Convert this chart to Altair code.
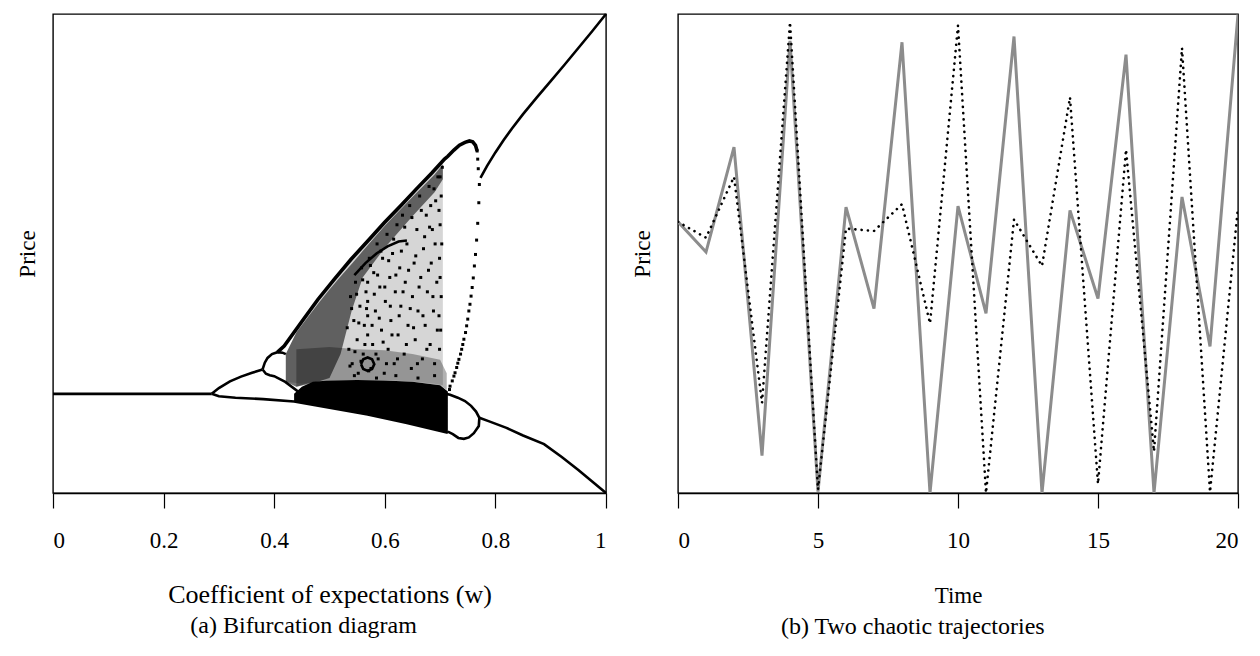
import altair as alt
import pandas as pd

FONT = "Liberation Serif"
FS = 23

# ---------------- Panel (a): bifurcation diagram (w, price scaled to 0..1) ----------------
fixed_w = [0.0, 0.287]
fixed_p = [0.207, 0.207]

floor_w = [0.287, 0.30, 0.33, 0.38, 0.436, 0.50, 0.569, 0.64, 0.714]
floor_p = [0.207, 0.202, 0.199, 0.196, 0.191, 0.178, 0.164, 0.146, 0.126]

p2up_w = [0.287, 0.30, 0.32, 0.34, 0.36, 0.379]
p2up_p = [0.207, 0.219, 0.233, 0.243, 0.251, 0.258]

looptop_w = [0.379, 0.383, 0.388, 0.396, 0.406, 0.415, 0.421]
looptop_p = [0.258, 0.272, 0.282, 0.290, 0.294, 0.293, 0.290]

loopbot_w = [0.379, 0.385, 0.392, 0.400, 0.420, 0.442, 0.460]
loopbot_p = [0.258, 0.249, 0.246, 0.244, 0.232, 0.213, 0.207]

arc_w = [0.545, 0.565, 0.585, 0.605, 0.625, 0.640]
arc_p = [0.455, 0.480, 0.500, 0.515, 0.525, 0.527]

ring_w = [0.557, 0.561, 0.569, 0.577, 0.581, 0.577, 0.569, 0.561, 0.557]
ring_p = [0.269, 0.279, 0.283, 0.279, 0.269, 0.259, 0.255, 0.259, 0.269]

upper_w = [0.773, 0.785, 0.800, 0.815, 0.830, 0.850, 0.875, 0.900, 0.925, 0.950, 0.975, 1.000]
upper_p = [0.658, 0.683, 0.711, 0.737, 0.761, 0.791, 0.826, 0.860, 0.894, 0.929, 0.964, 1.000]

lloop_w = [0.702, 0.718, 0.732, 0.745, 0.756, 0.765, 0.771, 0.770, 0.761, 0.752, 0.743, 0.733, 0.723, 0.714]
lloop_p = [0.209, 0.205, 0.199, 0.192, 0.182, 0.170, 0.157, 0.140, 0.125, 0.116, 0.113, 0.115, 0.123, 0.128]

lower_w = [0.771, 0.790, 0.820, 0.850, 0.888, 0.920, 0.950, 0.975, 1.000]
lower_p = [0.157, 0.149, 0.136, 0.120, 0.102, 0.075, 0.048, 0.024, 0.000]

# upper edge of the chaotic region, continuing over the bump
edge_w = [0.406, 0.418, 0.450, 0.479, 0.510, 0.539, 0.570, 0.599, 0.630, 0.659, 0.685,
          0.708, 0.714, 0.725, 0.735, 0.745, 0.753, 0.759, 0.764, 0.767]
edge_p = [0.294, 0.307, 0.358, 0.404, 0.448, 0.488, 0.527, 0.564, 0.601, 0.637, 0.668,
          0.697, 0.703, 0.716, 0.726, 0.732, 0.735, 0.733, 0.726, 0.714]

# sparse dots on the right side of the large loop
side_w = [0.767, 0.768, 0.769, 0.771, 0.770, 0.768, 0.766, 0.764, 0.762, 0.760, 0.758, 0.756,
          0.754, 0.752, 0.750, 0.748, 0.746, 0.743, 0.741, 0.739, 0.737, 0.734, 0.732, 0.730,
          0.727, 0.725, 0.722, 0.718, 0.717]
side_p = [0.714, 0.697, 0.677, 0.644, 0.606, 0.563, 0.528, 0.498, 0.474, 0.449, 0.429, 0.411,
          0.394, 0.380, 0.363, 0.349, 0.335, 0.321, 0.310, 0.300, 0.290, 0.279, 0.271, 0.262,
          0.251, 0.244, 0.234, 0.223, 0.216]

# scattered chaotic points
chaos_w = [0.535, 0.538, 0.541, 0.544, 0.547, 0.550, 0.552, 0.555, 0.558, 0.561, 0.563, 0.566,
           0.569, 0.569, 0.569, 0.569, 0.572, 0.575, 0.578, 0.580, 0.583, 0.586, 0.588, 0.591,
           0.594, 0.596, 0.599, 0.601, 0.604, 0.606, 0.609, 0.611, 0.614, 0.617, 0.619, 0.622,
           0.624, 0.627, 0.629, 0.632, 0.635, 0.637, 0.640, 0.642, 0.645, 0.648, 0.650, 0.653,
           0.655, 0.658, 0.660, 0.663, 0.665, 0.668, 0.670, 0.673, 0.675, 0.677, 0.680, 0.682,
           0.684, 0.686, 0.688, 0.690, 0.692, 0.694, 0.696,
           0.699, 0.701, 0.698, 0.702, 0.700, 0.699, 0.703, 0.700, 0.698, 0.702, 0.700, 0.704,
           0.532, 0.537, 0.540, 0.546, 0.549, 0.553, 0.557, 0.560, 0.564, 0.567, 0.571, 0.574,
           0.577, 0.581, 0.584, 0.587, 0.590, 0.593, 0.597, 0.600, 0.603, 0.607, 0.610, 0.613,
           0.616, 0.620, 0.623, 0.626, 0.630, 0.633, 0.636, 0.639, 0.643, 0.646, 0.649, 0.652,
           0.656, 0.659, 0.662, 0.666, 0.669, 0.672, 0.676, 0.679, 0.683, 0.687, 0.691, 0.695,
           0.689, 0.681, 0.545, 0.585, 0.620, 0.660, 0.690]
chaos_p = [0.30, 0.41, 0.27, 0.36, 0.44, 0.32, 0.25, 0.39, 0.47, 0.29, 0.35, 0.42,
           0.33, 0.37, 0.40, 0.44, 0.49, 0.26, 0.31, 0.46, 0.38, 0.52, 0.28, 0.43,
           0.34, 0.49, 0.25, 0.40, 0.54, 0.30, 0.45, 0.36, 0.50, 0.27, 0.42, 0.56,
           0.33, 0.47, 0.39, 0.58, 0.29, 0.44, 0.52, 0.35, 0.60, 0.26, 0.41, 0.48,
           0.32, 0.55, 0.38, 0.62, 0.45, 0.28, 0.51, 0.35, 0.58, 0.42, 0.64, 0.31,
           0.48, 0.55, 0.38, 0.27, 0.61, 0.44, 0.66,
           0.30, 0.34, 0.37, 0.41, 0.45, 0.49, 0.52, 0.56, 0.59, 0.62, 0.66, 0.68,
           0.345, 0.265, 0.385, 0.295, 0.415, 0.355, 0.275, 0.445, 0.310, 0.385, 0.255, 0.475,
           0.350, 0.415, 0.290, 0.455, 0.365, 0.505, 0.315, 0.430, 0.270, 0.485, 0.390, 0.330,
           0.530, 0.455, 0.280, 0.370, 0.505, 0.420, 0.555, 0.310, 0.465, 0.385, 0.575, 0.345,
           0.495, 0.270, 0.430, 0.590, 0.370, 0.535, 0.300, 0.465, 0.600, 0.410, 0.520, 0.340,
           0.635, 0.555, 0.245, 0.240, 0.245, 0.240, 0.245]

# shaded chaotic zones (top, bottom)
zone_w = [0.421, 0.450, 0.500, 0.550, 0.600, 0.650, 0.690, 0.705]
zone_top = [0.290, 0.358, 0.435, 0.502, 0.565, 0.625, 0.673, 0.693]
zone_bot = [0.232, 0.228, 0.235, 0.236, 0.236, 0.233, 0.228, 0.225]

dense_w = [0.421, 0.440, 0.460, 0.480, 0.500, 0.520, 0.540, 0.560, 0.600, 0.650, 0.690, 0.705]
dense_top = [0.290, 0.335, 0.366, 0.396, 0.425, 0.452, 0.478, 0.505, 0.558, 0.618, 0.665, 0.686]
dense_bot = [0.232, 0.222, 0.228, 0.233, 0.240, 0.290, 0.380, 0.450, 0.512, 0.578, 0.628, 0.655]

low_w = [0.440, 0.500, 0.550, 0.600, 0.650, 0.700, 0.712]
low_top = [0.300, 0.305, 0.300, 0.298, 0.290, 0.278, 0.250]
low_bot = [0.222, 0.235, 0.236, 0.235, 0.232, 0.225, 0.215]

band_w = [0.436, 0.450, 0.470, 0.500, 0.550, 0.600, 0.650, 0.700, 0.714]
band_top = [0.207, 0.222, 0.232, 0.235, 0.236, 0.235, 0.232, 0.225, 0.212]
band_bot = [0.191, 0.188, 0.184, 0.178, 0.168, 0.156, 0.143, 0.130, 0.126]

# ---------------- Panel (b): two trajectories ----------------
time_t = list(range(21))
gray_p = [0.566, 0.503, 0.722, 0.078, 0.944, 0.003, 0.597, 0.385, 0.941, 0.000, 0.599,
          0.375, 0.953, 0.000, 0.590, 0.406, 0.915, 0.000, 0.618, 0.306, 0.999]
dot_p = [0.566, 0.533, 0.660, 0.188, 0.983, 0.007, 0.552, 0.547, 0.603, 0.354, 0.976,
         0.000, 0.571, 0.474, 0.826, 0.019, 0.717, 0.087, 0.929, 0.002, 0.597]

# ---------------- build tables ----------------
def path_table(paths):
    rows = []
    for name, (ws, ps) in paths.items():
        for i, (w, p) in enumerate(zip(ws, ps)):
            rows.append({"seg": name, "ord": i, "w": w, "p": p})
    return pd.DataFrame(rows)

curves = path_table({
    "fixed": (fixed_w, fixed_p), "floor": (floor_w, floor_p), "p2up": (p2up_w, p2up_p),
    "looptop": (looptop_w, looptop_p), "loopbot": (loopbot_w, loopbot_p),
    "arc": (arc_w, arc_p), "ring": (ring_w, ring_p), "upper": (upper_w, upper_p),
    "lloop": (lloop_w, lloop_p), "lower": (lower_w, lower_p),
})
edge = path_table({"edge": (edge_w, edge_p)})
dots = pd.DataFrame({"w": side_w + chaos_w, "p": side_p + chaos_p})
zone = pd.DataFrame({"w": zone_w, "top": zone_top, "bot": zone_bot})
dense = pd.DataFrame({"w": dense_w, "top": dense_top, "bot": dense_bot})
low = pd.DataFrame({"w": low_w, "top": low_top, "bot": low_bot})
band = pd.DataFrame({"w": band_w, "top": band_top, "bot": band_bot})
traj = pd.DataFrame({"t": time_t, "gray": gray_p, "dot": dot_p})

xs = alt.Scale(domain=[0, 1], nice=False, zero=False)
ys = alt.Scale(domain=[0, 1], nice=False, zero=False)
xa = alt.Axis(values=[0, 0.2, 0.4, 0.6, 0.8, 1], format="~g",
              title="Coefficient of expectations (w)", titleFontSize=26, titlePadding=29)
ya = alt.Axis(title="Price", labels=False, ticks=False, domain=False, titlePadding=14)

def area(df, op):
    return alt.Chart(df).mark_area(color="black", opacity=op).encode(
        x=alt.X("w:Q", scale=xs, axis=xa), y=alt.Y("top:Q", scale=ys, axis=ya), y2="bot:Q")

lines = alt.Chart(curves).mark_line(color="black", strokeWidth=2.6).encode(
    x=alt.X("w:Q", scale=xs, axis=xa), y=alt.Y("p:Q", scale=ys, axis=ya),
    detail="seg:N", order="ord:Q")
edge_line = alt.Chart(edge).mark_line(color="black", strokeWidth=3.6).encode(
    x=alt.X("w:Q", scale=xs, axis=xa), y=alt.Y("p:Q", scale=ys, axis=ya), order="ord:Q")
dot_marks = alt.Chart(dots).mark_square(color="black", size=9, opacity=1).encode(
    x=alt.X("w:Q", scale=xs, axis=xa), y=alt.Y("p:Q", scale=ys, axis=ya))

left = alt.layer(
    area(zone, 0.16), area(low, 0.3), area(dense, 0.55), area(band, 1.0),
    dot_marks, lines, edge_line
).properties(
    width=553, height=479,
    title=alt.TitleParams("(a) Bifurcation diagram", orient="bottom", frame="bounds",
                          fontSize=24, font=FONT, fontWeight="normal", color="black",
                          offset=7, dx=-10),
)

txs = alt.Scale(domain=[0, 20], nice=False, zero=False)
txa = alt.Axis(values=[0, 5, 10, 15, 20], title="Time", titlePadding=32)
tya = alt.Axis(title="Price", labels=False, ticks=False, domain=False, titlePadding=24)
base = alt.Chart(traj).encode(x=alt.X("t:Q", scale=txs, axis=txa))
gray_line = base.mark_line(color="#8c8c8c", strokeWidth=3, clip=True).encode(
    y=alt.Y("gray:Q", scale=ys, axis=tya))
dot_line = base.mark_line(color="black", strokeWidth=2.6, strokeDash=[0.1, 6.2],
                          strokeCap="round", clip=True).encode(
    y=alt.Y("dot:Q", scale=ys, axis=tya))

right = alt.layer(gray_line, dot_line).properties(
    width=560, height=479,
    title=alt.TitleParams("(b) Two chaotic trajectories", orient="bottom", frame="bounds",
                          fontSize=24, font=FONT, fontWeight="normal", color="black",
                          offset=8, dx=-22),
)

chart = alt.hconcat(left, right, spacing=18).properties(
    padding={"left": 7, "top": 0, "right": 0, "bottom": 0}
).configure_view(
    stroke="black", strokeWidth=1.4
).configure_axis(
    grid=False, domainColor="black", domainWidth=1.4, tickColor="black", tickWidth=1.2,
    tickSize=15, labelPadding=21,
    labelFont=FONT, titleFont=FONT, labelFontSize=FS, titleFontSize=FS,
    titleFontWeight="normal", labelColor="black", titleColor="black",
)

chart.save("out.html", embed_options={"renderer": "svg", "actions": False})
